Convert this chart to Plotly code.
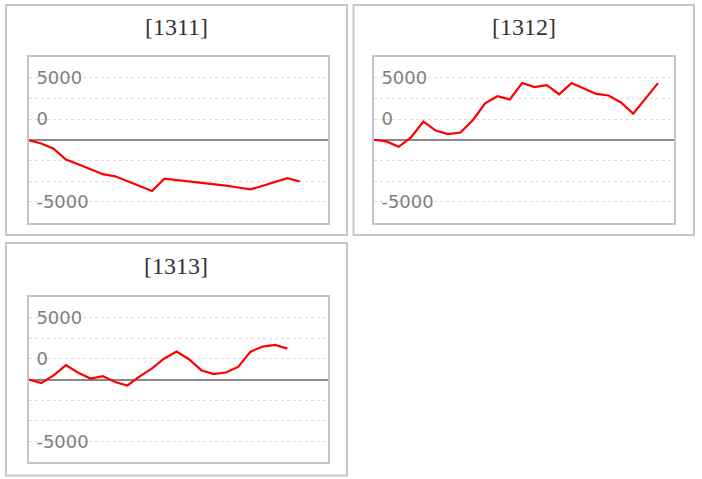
import plotly.graph_objects as go

# cumulative values per panel, one point per session
titulos = ["[1311]", "[1312]", "[1313]"]

serie_1311 = [-80, -450, -1075, -2400, -2950, -3550, -4160, -4420, -5010, -5610, -6200, -4700,
              -4860, -5000, -5150, -5320, -5550, -5770, -6000, -5550, -5090, -4640, -5040]
serie_1312 = [0, -200, -850, 275, 2190, 1110, 680, 870, 2360, 4390, 5260, 4870,
              6850, 6370, 6610, 5500, 6850, 6180, 5540, 5350, 4510, 3150, 5000, 6850]
serie_1313 = [0, -440, 500, 1740, 820, 120, 410, -300, -720, 390, 1350, 2550,
              3380, 2460, 1130, 650, 850, 1530, 3380, 3990, 4190, 3740]

tick_vals = [7500, 5000, 2500, 0, -2500, -5000, -7500]
tick_text = ["5000", "", "0", "", "", "", "-5000"]

series = [serie_1311, serie_1312, serie_1313]

W, H = 702, 479

def px_x(v):
    return v / W

def px_y(v):
    return 1 - v / H

# plot areas (left, right, top, bottom) and outer boxes in pixels
areas = [(29, 328, 57, 222.5), (374, 674, 57, 222.5), (29, 328, 297, 462)]
caixas = [(6, 347, 5, 235), (353.5, 694, 5, 235), (6, 347, 243, 475.5)]
titulo_y = [26.5, 26.5, 265.5]

fig = go.Figure()

for i, s in enumerate(series):
    sufixo = "" if i == 0 else str(i + 1)
    fig.add_trace(go.Scatter(
        x=list(range(len(s))), y=s, mode="lines",
        line=dict(color="#ff0000", width=2.2),
        xaxis="x" + sufixo, yaxis="y" + sufixo,
        showlegend=False, hoverinfo="skip",
    ))
    l, r, t, b = areas[i]
    fig.layout["xaxis" + sufixo] = dict(
        domain=[px_x(l), px_x(r)], range=[0, 24.3], anchor="y" + sufixo,
        showgrid=False, zeroline=False, showticklabels=False, ticks="",
        showline=True, mirror=True, linecolor="#c4c4c4", linewidth=2,
    )
    fig.layout["yaxis" + sufixo] = dict(
        domain=[px_y(b), px_y(t)], range=[-10000, 10000], anchor="x" + sufixo,
        tickmode="array", tickvals=tick_vals, ticktext=tick_text,
        ticklabelposition="inside", ticks="", ticklabelstandoff=8,
        tickfont=dict(family="DejaVu Sans", size=18, color="#808080"),
        showgrid=True, gridcolor="#dcdcdc", griddash="dot", gridwidth=1,
        zeroline=True, zerolinecolor="#888888", zerolinewidth=2,
        showline=True, mirror=True, linecolor="#c4c4c4", linewidth=2,
    )
    x0, x1, y0, y1 = caixas[i]
    fig.add_shape(type="rect", xref="paper", yref="paper",
                  x0=px_x(x0), x1=px_x(x1), y0=px_y(y1), y1=px_y(y0),
                  line=dict(color="#c8c8c8", width=2), layer="below")
    fig.add_annotation(text=titulos[i], xref="paper", yref="paper",
                       x=px_x((x0 + x1) / 2), y=px_y(titulo_y[i]),
                       xanchor="center", yanchor="middle", showarrow=False,
                       font=dict(family="Liberation Serif", size=24, color="#333333"))

fig.update_layout(
    width=W, height=H,
    margin=dict(l=0, r=0, t=0, b=0),
    paper_bgcolor="white", plot_bgcolor="white",
)

# the page body has a default 8px margin, drop it so the figure sits at 0,0
fig.write_html("out.html", config={"displayModeBar": False},
               post_script="document.body.style.margin='0';")
